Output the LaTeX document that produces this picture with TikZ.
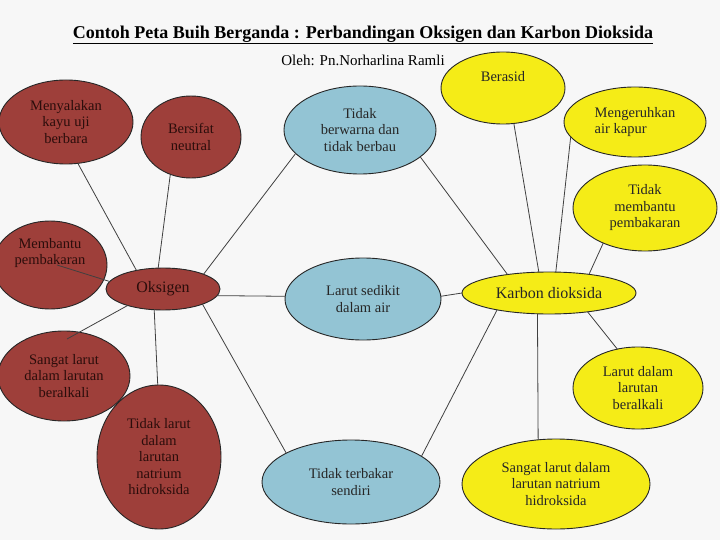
\documentclass[tikz,border=0pt]{standalone}
\usepackage{fontspec}
\setmainfont{Liberation Serif}
\usetikzlibrary{shapes.geometric,calc}
\definecolor{redf}{HTML}{9E3F3A}
\definecolor{bluef}{HTML}{93C4D4}
\definecolor{yelf}{HTML}{F5EC17}
\definecolor{bgc}{HTML}{F7F7F7}
\definecolor{redt}{HTML}{2B0D0B}
\begin{document}
\begin{tikzpicture}[x=1pt,y=-1pt,
  bfont/.style={font=\fontsize{14.5}{16.5}\selectfont},
  bub/.style={ellipse, draw=black!85, line width=0.9pt, inner sep=0pt, outer sep=0pt, align=center, bfont},
  redb/.style={bub, fill=redf, text=redt},
  blueb/.style={bub, fill=bluef, text=black!85},
  yelb/.style={bub, fill=yelf, text=black!85},
  link/.style={draw=black!75, line width=0.8pt}]
\fill[bgc] (0,0) rectangle (720,540);
\useasboundingbox (0,0) rectangle (720,540);

\node[font=\fontsize{18}{21}\selectfont\bfseries] (title) at (363,35) {\underline{Contoh Peta Buih Berganda : Perbandingan Oksigen dan Karbon Dioksida}};
\node[font=\fontsize{15}{17}\selectfont] (sub) at (363,60) {Oleh: Pn.Norharlina Ramli};

% red
\node[redb, minimum width=134pt, minimum height=84pt] (m1) at (66,122) {Menyalakan\\kayu uji\\berbara};
\node[redb, minimum width=100pt, minimum height=82pt] (bn) at (191,137) {Bersifat\\neutral};
\node[redb, minimum width=114pt, minimum height=88pt, label={[bfont, align=center, text=redt, yshift=12pt]center:{Membantu\\pembakaran}}] (mb) at (50,265) {};
\node[redb, minimum width=114pt, minimum height=42pt, font=\fontsize{16}{19}\selectfont] (oks) at (163,289) {Oksigen};
\node[redb, minimum width=132pt, minimum height=90pt] (sa) at (64,376) {Sangat larut\\dalam larutan\\beralkali};
\node[redb, minimum width=124pt, minimum height=144pt] (tl) at (159,457) {Tidak larut\\dalam\\larutan\\natrium\\hidroksida};

% blue
\node[blueb, minimum width=152pt, minimum height=88pt] (tb) at (360,130) {Tidak\\berwarna dan\\tidak berbau};
\node[blueb, minimum width=156pt, minimum height=82pt] (ls) at (363,299) {Larut sedikit\\dalam air};
\node[blueb, minimum width=178pt, minimum height=84pt] (tt) at (351,482) {Tidak terbakar\\sendiri};

% yellow
\node[yelb, minimum width=124pt, minimum height=72pt, label={[bfont, text=black!85, yshift=11pt]center:Berasid}] (br) at (503,88) {};
\node[yelb, minimum width=142pt, minimum height=70pt, align=left] (mg) at (635,122) {Mengeruhkan\\air kapur};
\node[yelb, minimum width=144pt, minimum height=86pt] (tm) at (645,208) {Tidak\\membantu\\pembakaran};
\node[yelb, minimum width=174pt, minimum height=42pt, font=\fontsize{16}{19}\selectfont] (kd) at (549,293) {Karbon dioksida};
\node[yelb, minimum width=130pt, minimum height=82pt] (ld) at (638,388) {Larut dalam\\larutan\\beralkali};
\node[yelb, minimum width=188pt, minimum height=90pt] (sn) at (556,484) {Sangat larut dalam\\larutan natrium\\hidroksida};

% connectors
\draw[link] (m1.-74) -- (oks.145);
\draw[link] (bn.-119) -- (oks.103);
\draw[link] ($(mb.center)+(7,0)$) -- (oks.172);
\draw[link] ($(sa.center)+(3,-37)$) -- (oks.-155);
\draw[link] (tl.91) -- (oks.-113);
\draw[link] (oks.-21) -- (tt.156);
\draw[link] (oks.20) -- (tb.-160);
\draw[link] (oks.-7) -- (ls.178);
\draw[link] (tb.-24) -- (kd.156);
\draw[link] (ls.2) -- (kd.180);
\draw[link] (tt.20) -- (kd.-162);
\draw[link] (br.-73) -- (kd.116);
\draw[link] (mg.-167) -- (kd.72);
\draw[link] (tm.-140) -- (kd.25);
\draw[link] (kd.-26) -- (ld.118);
\draw[link] (kd.-119) -- (sn.112);
\end{tikzpicture}
\end{document}
